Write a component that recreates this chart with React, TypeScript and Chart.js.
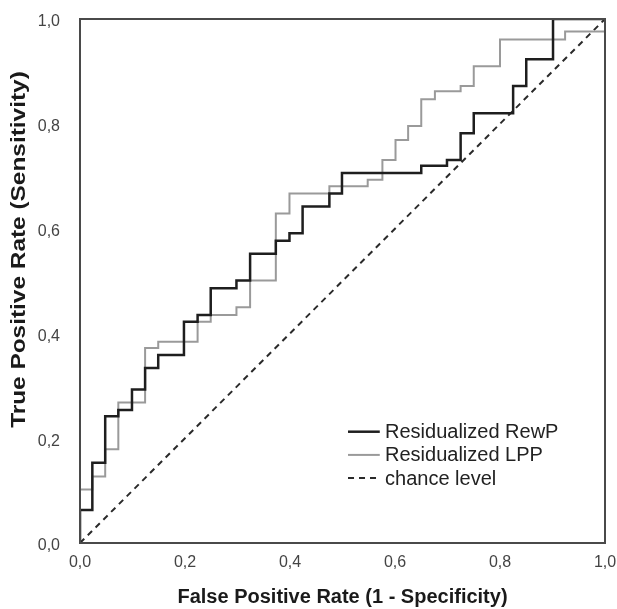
import React, { useEffect, useRef } from 'react';
import { Chart, registerables } from 'chart.js';

Chart.register(...registerables);

// ROC vertices (False Positive Rate, True Positive Rate)
const REWP_FPR = [0, 0, 0.0235, 0.048, 0.073, 0.099, 0.124, 0.149, 0.198, 0.224, 0.249, 0.298, 0.324, 0.373, 0.399, 0.424, 0.475, 0.499, 0.650, 0.699, 0.725, 0.750, 0.825, 0.850, 0.901, 1.0];
const REWP_TPR = [0, 0.063, 0.153, 0.242, 0.254, 0.293, 0.334, 0.359, 0.422, 0.435, 0.486, 0.501, 0.552, 0.577, 0.591, 0.642, 0.667, 0.706, 0.720, 0.731, 0.782, 0.820, 0.872, 0.923, 1.0, 1.0];

const LPP_FPR = [0, 0, 0.0235, 0.048, 0.073, 0.124, 0.149, 0.224, 0.249, 0.298, 0.324, 0.373, 0.399, 0.475, 0.548, 0.576, 0.601, 0.625, 0.650, 0.676, 0.725, 0.750, 0.800, 0.924, 1.0, 1.0];
const LPP_TPR = [0, 0.102, 0.127, 0.179, 0.268, 0.372, 0.384, 0.422, 0.435, 0.450, 0.501, 0.629, 0.667, 0.681, 0.693, 0.731, 0.769, 0.796, 0.847, 0.862, 0.872, 0.910, 0.961, 0.976, 0.976, 1.0];

const CHANCE_FPR = [0, 1];
const CHANCE_TPR = [0, 1];

const SERIES_LABELS = ['Residualized RewP', 'Residualized LPP', 'chance level'];
const TICK_VALUES = [0, 0.2, 0.4, 0.6, 0.8, 1.0];
const TICK_LABELS = ['0,0', '0,2', '0,4', '0,6', '0,8', '1,0'];
const X_TITLE = 'False Positive Rate (1 - Specificity)';
const Y_TITLE = 'True Positive Rate (Sensitivity)';

const FONT = "'Liberation Sans', Arial, sans-serif";

const toPoints = (xs: number[], ys: number[]) => xs.map((x, i) => ({ x, y: ys[i] }));

const frameLegendTitle = {
  id: 'frameLegendTitle',
  afterDatasetsDraw(chart: any) {
    const { ctx, chartArea } = chart;
    const w = chartArea.right - chartArea.left;
    const h = chartArea.bottom - chartArea.top;
    ctx.save();
    ctx.strokeStyle = '#4a4a4a';
    ctx.lineWidth = 2;
    ctx.setLineDash([]);
    ctx.strokeRect(chartArea.left, chartArea.top, w, h);

    // legend
    const lx0 = chartArea.left + w * 0.5105;
    const lx1 = chartArea.left + w * 0.571;
    const tx = chartArea.left + w * 0.581;
    const y0 = chartArea.top + h * 0.7876;
    const dy = 23.2;
    ctx.font = `20px ${FONT}`;
    ctx.textBaseline = 'middle';
    ctx.textAlign = 'left';
    chart.data.datasets.forEach((ds: any, i: number) => {
      const y = y0 + i * dy;
      ctx.beginPath();
      ctx.strokeStyle = ds.borderColor;
      ctx.lineWidth = ds.borderWidth;
      ctx.setLineDash(ds.borderDash || []);
      ctx.moveTo(lx0, y);
      ctx.lineTo(lx1, y);
      ctx.stroke();
      ctx.fillStyle = '#222';
      ctx.fillText(ds.label, tx, y + 1);
    });

    // y-axis title (drawn slightly stretched along its length, as in the original figure)
    ctx.setLineDash([]);
    ctx.translate(19, chartArea.top + h * 0.44);
    ctx.scale(1, 1.22);
    ctx.rotate(-Math.PI / 2);
    ctx.font = `bold 20px ${FONT}`;
    ctx.fillStyle = '#1a1a1a';
    ctx.textAlign = 'center';
    ctx.textBaseline = 'middle';
    ctx.fillText(Y_TITLE, 0, 0);
    ctx.restore();
  },
};

export default function App() {
  const ref = useRef<HTMLCanvasElement | null>(null);

  useEffect(() => {
    if (!ref.current) return;
    const tickCfg = {
      color: '#444',
      font: { family: FONT, size: 16 },
      callback: (_v: any, i: number) => TICK_LABELS[i],
      autoSkip: false,
    };
    const hiddenGrid = (len: number) => ({
      display: true,
      drawOnChartArea: false,
      drawTicks: true,
      tickLength: len,
      color: 'rgba(0,0,0,0)',
      tickColor: 'rgba(0,0,0,0)',
    });
    const chart = new Chart(ref.current, {
      type: 'line',
      data: {
        datasets: [
          {
            label: SERIES_LABELS[0],
            data: toPoints(REWP_FPR, REWP_TPR),
            borderColor: '#1e1e1e',
            borderWidth: 2.5,
            stepped: 'before',
            pointRadius: 0,
            fill: false,
          },
          {
            label: SERIES_LABELS[1],
            data: toPoints(LPP_FPR, LPP_TPR),
            borderColor: '#9a9a9a',
            borderWidth: 2,
            stepped: 'before',
            pointRadius: 0,
            fill: false,
          },
          {
            label: SERIES_LABELS[2],
            data: toPoints(CHANCE_FPR, CHANCE_TPR),
            borderColor: '#2a2a2a',
            borderWidth: 2,
            borderDash: [6, 5],
            pointRadius: 0,
            fill: false,
          },
        ],
      },
      options: {
        animation: false,
        responsive: false,
        devicePixelRatio: 1,
        layout: { padding: { top: 19, right: 12, left: 0, bottom: 0 } },
        plugins: { legend: { display: false }, tooltip: { enabled: false } },
        scales: {
          x: {
            type: 'linear',
            min: 0,
            max: 1,
            afterBuildTicks: (s: any) => { s.ticks = TICK_VALUES.map((v) => ({ value: v })); },
            afterFit: (s: any) => { s.height = 66; },
            grid: hiddenGrid(10),
            border: { display: false },
            ticks: { ...tickCfg, padding: 0, maxRotation: 0 },
            title: {
              display: true,
              text: X_TITLE,
              color: '#1a1a1a',
              font: { family: FONT, size: 20, weight: 'bold' },
              padding: { top: 0, bottom: 0 },
            },
          },
          y: {
            type: 'linear',
            min: 0,
            max: 1,
            afterBuildTicks: (s: any) => { s.ticks = TICK_VALUES.map((v) => ({ value: v })); },
            afterFit: (s: any) => { s.width = 80; },
            grid: hiddenGrid(18),
            border: { display: false },
            ticks: { ...tickCfg, padding: 2, labelOffset: 3 },
            title: { display: false },
          },
        },
      },
      plugins: [frameLegendTitle],
    } as any);
    return () => chart.destroy();
  }, []);

  return (
    <div style={{ position: 'fixed', left: 0, top: 0, width: 617, height: 609, background: '#fff' }}>
      <canvas ref={ref} width={617} height={609} />
    </div>
  );
}
